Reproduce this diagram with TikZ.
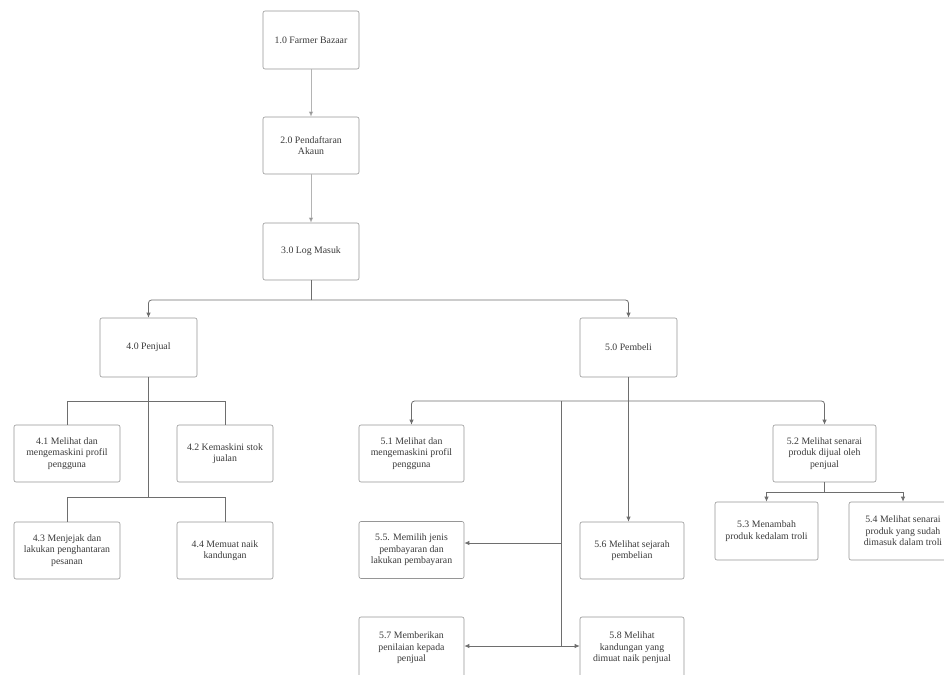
\documentclass[tikz,border=0pt]{standalone}
\usepackage{fontspec}
\setmainfont{Liberation Serif}
\usepackage{xcolor}
\usetikzlibrary{calc, positioning, arrows.meta}
\definecolor{BoxLine}{HTML}{969696}
\definecolor{LinkGray}{HTML}{6E6E6E}
\definecolor{SoftGray}{HTML}{B4B4B4}
\definecolor{InkGray}{HTML}{3A3A3A}

\begin{document}
\begin{tikzpicture}[x=1pt, y=-1pt,
        box/.style={draw=BoxLine, rounded corners=2pt, fill=white, line width=0.6pt,
                    minimum width=105pt, minimum height=57pt, inner sep=1pt,
                    align=center, text=InkGray,
                    font=\fontsize{9.8}{11.4}\selectfont},
        link/.style={draw=LinkGray, line width=0.8pt},
        arr/.style={link, -{Latex[length=5pt, width=4.5pt]}},
        toparr/.style={draw=SoftGray, line width=0.7pt,
                    -{Latex[length=5pt, width=4.5pt, fill=LinkGray]}}]

        \useasboundingbox (0,0) rectangle (944,674);

        % Top chain
        \node[box, minimum width=96pt, minimum height=58pt] (farm)  at (311,40)    {1.0 Farmer Bazaar};
        \node[box, minimum width=96pt] (daftar) at (311,145.5) {2.0 Pendaftaran\\Akaun};
        \node[box, minimum width=96pt] (login)  at (311,251.5) {3.0 Log Masuk};

        % Main users
        \node[box, minimum width=97pt, minimum height=59pt] (jual) at (148.5,347.5) {4.0 Penjual};
        \node[box, minimum width=97pt, minimum height=59pt] (beli) at (628.5,347.5) {5.0 Pembeli};

        % Penjual functions
        \node[box, minimum width=106pt] (j41) at (67,453.5)  {4.1 Melihat dan\\mengemaskini profil\\pengguna};
        \node[box, minimum width=96pt]  (j42) at (225,453.5) {4.2 Kemaskini stok\\jualan};
        \node[box, minimum width=106pt] (j43) at (67,550.5)  {4.3 Menjejak dan\\lakukan penghantaran\\pesanan};
        \node[box, minimum width=96pt]  (j44) at (225,550.5) {4.4 Memuat naik\\kandungan};

        % Pembeli functions
        \node[box] (b51) at (411.5,453.5) {5.1 Melihat dan\\mengemaskini profil\\pengguna};
        \node[box, minimum width=103pt] (b52) at (824.5,453.5) {5.2 Melihat senarai\\produk dijual oleh\\penjual};
        \node[box, minimum width=103pt, minimum height=58pt] (b53) at (766.5,531) {5.3 Menambah\\produk kedalam troli};
        \node[box, minimum width=108pt, minimum height=58pt] (b54) at (903,531)   {5.4 Melihat senarai\\produk yang sudah\\dimasuk dalam troli};
        \node[box] (b55) at (411.5,550)   {5.5. Memilih jenis\\pembayaran dan\\lakukan pembayaran};
        \node[box, minimum width=104pt] (b56) at (632,550.5) {5.6 Melihat sejarah\\pembelian};
        \node[box, minimum height=62pt] (b57) at (411.5,648) {5.7 Memberikan\\penilaian kepada\\penjual};
        \node[box, minimum width=104pt, minimum height=62pt] (b58) at (632,648) {5.8 Melihat\\kandungan yang\\dimuat naik penjual};

        % Branch points
        \coordinate (split3)  at (311,300);
        \coordinate (splitJa) at (148.5,401);
        \coordinate (splitJb) at (148.5,497);
        \coordinate (splitB)  at (628.5,401);
        \coordinate (trunkT)  at (561,401);
        \coordinate (trunk55) at (561,543);
        \coordinate (trunk57) at (561,646);
        \coordinate (split52) at (824.5,492);

        % Top arrows
        \draw[toparr] (farm.south) -- (daftar.north);
        \draw[toparr] (daftar.south) -- (login.north);

        % Log Masuk to users
        \draw[link] (login.south) -- (split3);
        \draw[arr, rounded corners=3pt] (split3) -| (jual.north);
        \draw[arr, rounded corners=3pt] (split3) -| (beli.north);

        % Penjual tree
        \draw[link] (jual.south) -- (splitJb);
        \draw[link] (splitJa) -| (j41.north);
        \draw[link] (splitJa) -| (j42.north);
        \draw[link] (splitJb) -| (j43.north);
        \draw[link] (splitJb) -| (j44.north);

        % Pembeli tree
        \draw[arr] (beli.south) -- (beli.south |- b56.north);
        \draw[arr, rounded corners=3pt] (splitB) -| (b51.north);
        \draw[arr, rounded corners=3pt] (splitB) -| (b52.north);
        \draw[link] (trunkT) -- (trunk57);
        \draw[arr] (trunk55) -- (trunk55 -| b55.east);
        \draw[arr] (trunk57) -- (trunk57 -| b57.east);
        \draw[arr] (trunk57) -- (trunk57 -| b58.west);

        % Senarai produk
        \draw[link] (b52.south) -- (split52);
        \draw[arr] (split52) -| (b53.north);
        \draw[arr] (split52) -| (b54.north);
      \end{tikzpicture}
\end{document}
